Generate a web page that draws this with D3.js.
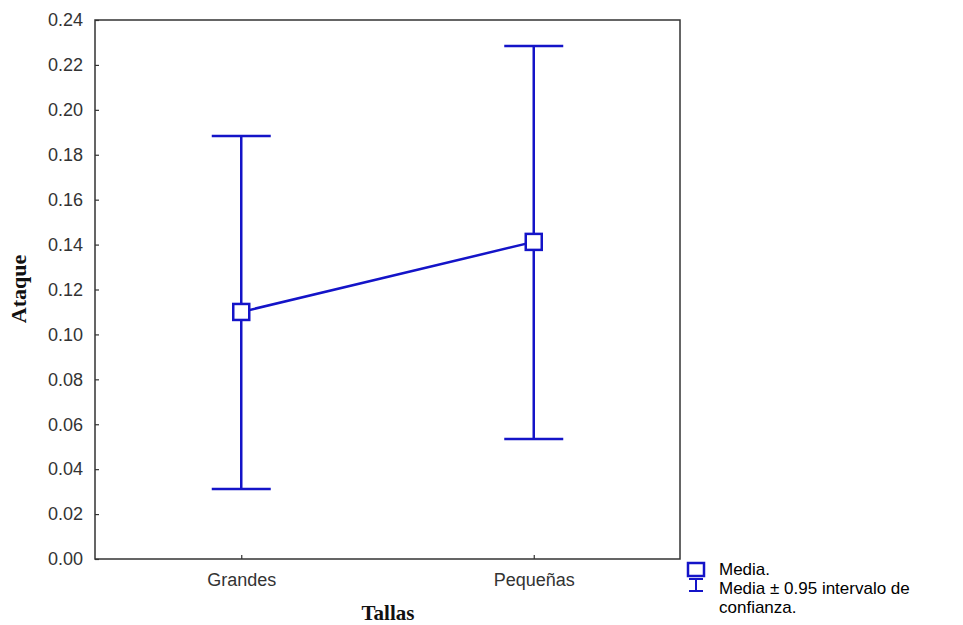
<!DOCTYPE html>
<html><head><meta charset="utf-8">
<script src="https://cdn.jsdelivr.net/npm/d3@7"></script>
<style>body{margin:0;background:#fff}svg{display:block}</style>
</head><body>
<svg id="c" width="963" height="625"></svg>
<script>
const categories = ["Grandes", "Pequeñas"];
const means = [0.110, 0.1412];
const lower = [0.0312, 0.0534];
const upper = [0.1884, 0.2284];
const yTicks = [0,0.02,0.04,0.06,0.08,0.10,0.12,0.14,0.16,0.18,0.20,0.22,0.24];
const legendLabels = ["Media.", "Media ± 0.95 intervalo de", "confianza."];

const svg = d3.select("#c");
const L = 95, R = 680, T = 20, B = 559;
const blue = "#1414c8";
const x = d3.scalePoint().domain(categories).range([L, R]).padding(0.5);
const y = d3.scaleLinear().domain([0, 0.24]).range([B, T]);

// frame
svg.append("rect").attr("x", L).attr("y", T).attr("width", R - L).attr("height", B - T)
  .attr("fill", "none").attr("stroke", "#333").attr("stroke-width", 1.5);

// y axis
const ya = svg.append("g").attr("transform", `translate(${L},0)`)
  .call(d3.axisLeft(y).tickValues(yTicks).tickFormat(d3.format(".2f")).tickSizeInner(-4).tickSizeOuter(0).tickPadding(12));
ya.select(".domain").remove();
ya.selectAll("line").attr("stroke", "#333").attr("stroke-width", 1.2);
ya.selectAll("text").attr("font-family", "Liberation Sans, Arial, sans-serif").attr("font-size", 18).attr("fill", "#333");

// x axis
const xa = svg.append("g").attr("transform", `translate(0,${B})`)
  .call(d3.axisBottom(x).tickSizeInner(-4).tickSizeOuter(0).tickPadding(14));
xa.select(".domain").remove();
xa.selectAll("line").attr("stroke", "#333").attr("stroke-width", 1.2);
xa.selectAll("text").attr("font-family", "Liberation Sans, Arial, sans-serif").attr("font-size", 18).attr("fill", "#333");

// axis titles
svg.append("text").attr("x", 388).attr("y", 620).attr("text-anchor", "middle")
  .attr("font-family", "Liberation Serif, Times New Roman, serif").attr("font-weight", "bold").attr("font-size", 21)
  .attr("fill", "#111").text("Tallas");
svg.append("text").attr("transform", "translate(26,289) rotate(-90)").attr("text-anchor", "middle")
  .attr("font-family", "Liberation Serif, Times New Roman, serif").attr("font-weight", "bold").attr("font-size", 22)
  .attr("fill", "#111").text("Ataque");

const g = svg.append("g");
const capW = 29.5;
categories.forEach((c, i) => {
  const cx = x(c);
  g.append("line").attr("x1", cx).attr("x2", cx).attr("y1", y(lower[i])).attr("y2", y(upper[i]))
    .attr("stroke", blue).attr("stroke-width", 2.5);
  [lower[i], upper[i]].forEach(v => {
    g.append("line").attr("x1", cx - capW).attr("x2", cx + capW).attr("y1", y(v)).attr("y2", y(v))
      .attr("stroke", blue).attr("stroke-width", 2.5);
  });
});
// mean line
g.append("path").datum(categories.map((c, i) => [x(c), y(means[i])]))
  .attr("d", d3.line()).attr("fill", "none").attr("stroke", blue).attr("stroke-width", 2.5);
// markers
categories.forEach((c, i) => {
  g.append("rect").attr("x", x(c) - 8).attr("y", y(means[i]) - 8).attr("width", 16).attr("height", 16)
    .attr("fill", "#fff").attr("stroke", blue).attr("stroke-width", 2.5);
});

// legend
const lg = svg.append("g");
lg.append("rect").attr("x", 688).attr("y", 563).attr("width", 16).attr("height", 13)
  .attr("fill", "#fff").attr("stroke", blue).attr("stroke-width", 2.5);
lg.append("line").attr("x1", 696).attr("x2", 696).attr("y1", 579).attr("y2", 591).attr("stroke", blue).attr("stroke-width", 2);
lg.append("line").attr("x1", 689).attr("x2", 703).attr("y1", 579).attr("y2", 579).attr("stroke", blue).attr("stroke-width", 2);
lg.append("line").attr("x1", 689).attr("x2", 703).attr("y1", 591).attr("y2", 591).attr("stroke", blue).attr("stroke-width", 2);
const lys = [575, 594, 613];
legendLabels.forEach((t, i) => {
  lg.append("text").attr("x", 719).attr("y", lys[i])
    .attr("font-family", "Liberation Sans, Arial, sans-serif").attr("font-size", 17).attr("fill", "#000").text(t);
});
</script>
</body></html>
